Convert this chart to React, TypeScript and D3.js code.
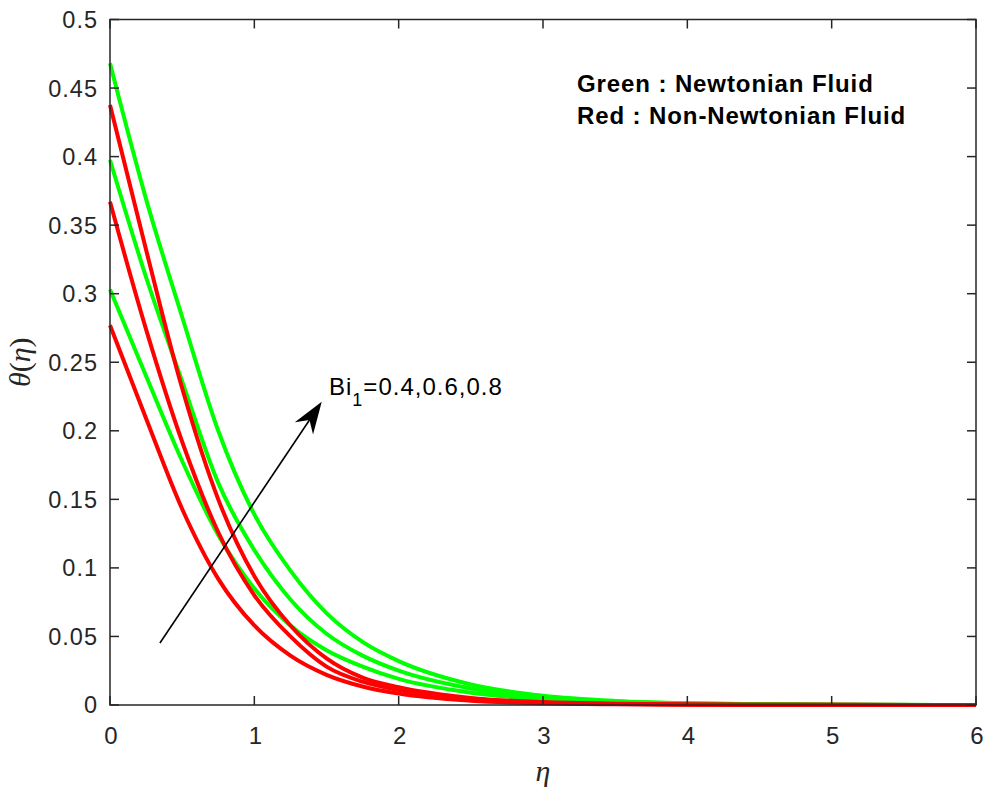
import React, { useEffect, useRef } from "react";
import * as d3 from "d3";

// eta grid
const eta = [0, 0.25, 0.5, 0.75, 1, 1.25, 1.5, 1.75, 2, 2.5, 3, 3.5, 4, 5, 6];

// Newtonian fluid (green)
const greenBi04 = [0.303, 0.24, 0.178, 0.124, 0.085, 0.058, 0.04, 0.028, 0.019, 0.009, 0.0042, 0.002, 0.0009, 0.0002, 0];
const greenBi06 = [0.3975, 0.312, 0.236, 0.162, 0.113, 0.077, 0.052, 0.036, 0.025, 0.012, 0.0055, 0.0025, 0.0011, 0.0002, 0];
const greenBi08 = [0.468, 0.369, 0.283, 0.2, 0.139, 0.098, 0.067, 0.046, 0.032, 0.015, 0.0068, 0.003, 0.0013, 0.0002, 0];

// Non-Newtonian fluid (red)
const redBi04 = [0.277, 0.209, 0.143, 0.092, 0.058, 0.036, 0.022, 0.0135, 0.0083, 0.0031, 0.0012, 0.0005, 0.0002, 0, 0];
const redBi06 = [0.367, 0.274, 0.192, 0.126, 0.08, 0.05, 0.028, 0.017, 0.011, 0.0045, 0.0018, 0.0007, 0.0003, 0.0001, 0];
const redBi08 = [0.4376, 0.332, 0.231, 0.15, 0.094, 0.058, 0.034, 0.02, 0.013, 0.0052, 0.0021, 0.0009, 0.0004, 0.0001, 0];

const xTicks = [0, 1, 2, 3, 4, 5, 6];
const yTicks = [0, 0.05, 0.1, 0.15, 0.2, 0.25, 0.3, 0.35, 0.4, 0.45, 0.5];

// arrow from / to, in data units
const arrowFrom = [0.346, 0.0452];
const arrowTo = [1.467, 0.2212];

function App() {
  const ref = useRef<SVGSVGElement>(null);

  useEffect(() => {
    const svg = d3.select(ref.current);
    svg.selectAll("*").remove();

    const margin = { top: 19.5, right: 9, bottom: 91, left: 110 };
    const width = 985 - margin.left - margin.right;
    const height = 796 - margin.top - margin.bottom;
    const axisColor = "#262626";
    const font = "Arial, 'Liberation Sans', Helvetica, sans-serif";

    const x = d3.scaleLinear().domain([0, 6]).range([0, width]);
    const y = d3.scaleLinear().domain([0, 0.5]).range([height, 0]);

    const g = svg
      .append("g")
      .attr("transform", "translate(" + margin.left + "," + margin.top + ")");

    // curves
    const line = d3
      .line<number>()
      .x((d, i) => x(eta[i]))
      .y(d => y(d))
      .curve(d3.curveMonotoneX);

    const series = [
      { v: greenBi08, c: "#00ff00" },
      { v: greenBi06, c: "#00ff00" },
      { v: greenBi04, c: "#00ff00" },
      { v: redBi08, c: "#ff0000" },
      { v: redBi06, c: "#ff0000" },
      { v: redBi04, c: "#ff0000" }
    ];

    g.selectAll(".curve")
      .data(series)
      .enter()
      .append("path")
      .attr("class", "curve")
      .attr("d", d => line(d.v))
      .attr("fill", "none")
      .attr("stroke", d => d.c)
      .attr("stroke-width", 4);

    // box
    g.append("rect")
      .attr("width", width)
      .attr("height", height)
      .attr("fill", "none")
      .attr("stroke", axisColor)
      .attr("stroke-width", 1.5);

    // ticks, inside on all four sides
    const tl = 9;
    xTicks.forEach(t => {
      g.append("line").attr("x1", x(t)).attr("x2", x(t)).attr("y1", height).attr("y2", height - tl)
        .attr("stroke", axisColor).attr("stroke-width", 1.5);
      g.append("line").attr("x1", x(t)).attr("x2", x(t)).attr("y1", 0).attr("y2", tl)
        .attr("stroke", axisColor).attr("stroke-width", 1.5);
      g.append("text")
        .attr("x", x(t) + 1)
        .attr("y", height + 39)
        .attr("text-anchor", "middle")
        .attr("font-family", font)
        .attr("font-size", 24)
        .attr("fill", axisColor)
        .text(String(t));
    });

    yTicks.forEach(t => {
      g.append("line").attr("x1", 0).attr("x2", tl).attr("y1", y(t)).attr("y2", y(t))
        .attr("stroke", axisColor).attr("stroke-width", 1.5);
      g.append("line").attr("x1", width).attr("x2", width - tl).attr("y1", y(t)).attr("y2", y(t))
        .attr("stroke", axisColor).attr("stroke-width", 1.5);
      g.append("text")
        .attr("x", -12)
        .attr("y", y(t))
        .attr("dy", "0.36em")
        .attr("text-anchor", "end")
        .attr("font-family", font)
        .attr("font-size", 23.5)
        .attr("letter-spacing", 1)
        .attr("fill", axisColor)
        .text(String(+t.toFixed(2)));
    });

    // axis labels
    g.append("text")
      .attr("x", x(3))
      .attr("y", height + 76)
      .attr("text-anchor", "middle")
      .attr("font-family", "'Liberation Serif', 'Times New Roman', serif")
      .attr("font-style", "italic")
      .attr("font-size", 30)
      .attr("fill", axisColor)
      .text("\u03b7");

    g.append("text")
      .attr("transform", "translate(" + (-80) + "," + height / 2 + ") rotate(-90)")
      .attr("text-anchor", "middle")
      .attr("font-family", "'Liberation Serif', 'Times New Roman', serif")
      .attr("font-size", 30)
      .attr("fill", axisColor)
      .call(t => {
        t.append("tspan").attr("font-style", "italic").text("\u03b8");
        t.append("tspan").text("(");
        t.append("tspan").attr("font-style", "italic").text("\u03b7");
        t.append("tspan").text(")");
      });

    // legend text
    g.append("text")
      .attr("x", 577 - margin.left)
      .attr("y", 92 - margin.top)
      .attr("font-family", font)
      .attr("font-weight", "bold")
      .attr("font-size", 24)
      .attr("letter-spacing", 0.9)
      .attr("fill", "#000")
      .text("Green : Newtonian Fluid");

    g.append("text")
      .attr("x", 577 - margin.left)
      .attr("y", 124 - margin.top)
      .attr("font-family", font)
      .attr("font-weight", "bold")
      .attr("font-size", 24)
      .attr("letter-spacing", 0.9)
      .attr("fill", "#000")
      .text("Red : Non-Newtonian Fluid");

    // arrow
    const x0 = x(arrowFrom[0]), y0 = y(arrowFrom[1]);
    const x1 = x(arrowTo[0]), y1 = y(arrowTo[1]);
    const len = Math.hypot(x1 - x0, y1 - y0);
    const ux = (x1 - x0) / len, uy = (y1 - y0) / len;
    const nx = -uy, ny = ux;
    const hl = 32, hw = 11, notch = 22;

    g.append("line")
      .attr("x1", x0).attr("y1", y0)
      .attr("x2", x1 - ux * notch).attr("y2", y1 - uy * notch)
      .attr("stroke", "#000")
      .attr("stroke-width", 1.6);

    const head = [
      [x1, y1],
      [x1 - ux * hl + nx * hw, y1 - uy * hl + ny * hw],
      [x1 - ux * notch, y1 - uy * notch],
      [x1 - ux * hl - nx * hw, y1 - uy * hl - ny * hw]
    ];
    g.append("path")
      .attr("d", "M" + head.map(p => p.join(",")).join("L") + "Z")
      .attr("fill", "#000");

    // Bi label
    const lbl = g.append("text")
      .attr("x", 329 - margin.left)
      .attr("y", 395 - margin.top)
      .attr("font-family", font)
      .attr("font-size", 24)
      .attr("letter-spacing", 1)
      .attr("fill", "#000");
    lbl.append("tspan").text("Bi");
    lbl.append("tspan").attr("font-size", 18).attr("dy", 11).text("1");
    lbl.append("tspan").attr("dy", -11).text("=0.4,0.6,0.8");
  }, []);

  return (
    <svg
      ref={ref}
      width="985"
      height="796"
      style={{ position: "absolute", left: 0, top: 0, background: "#fff" }}
    />
  );
}

export default App;
